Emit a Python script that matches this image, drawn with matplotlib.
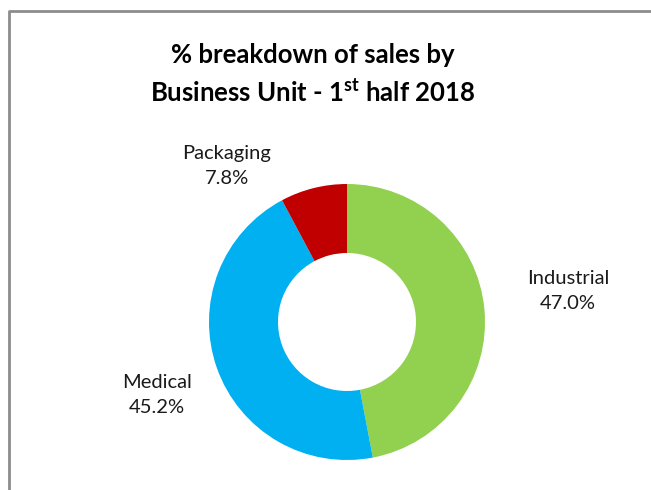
import matplotlib
matplotlib.use("Agg")
import matplotlib.pyplot as plt

units = ["Industrial", "Medical", "Packaging"]
shares = [47.0, 45.2, 7.8]
colors = ["#92D050", "#00B0F0", "#C00000"]

plt.rcParams["font.family"] = ["Lato", "DejaVu Sans"]
plt.rcParams["mathtext.fontset"] = "custom"
plt.rcParams["mathtext.bf"] = "Lato:bold"

W, H = 651, 490
fig = plt.figure(figsize=(W / 100, H / 100), dpi=100)
ax = fig.add_axes([0, 0, 1, 1])

# chart frame (left and top edges visible)
ax.plot([9, 9, W + 5], [-5, H - 11, H - 11], color="#8c8c8c", lw=2, solid_capstyle="butt")

cx, cy, r = 347, H - 322, 138
ax.pie(shares, colors=colors, startangle=90, counterclock=False,
       center=(cx, cy), radius=r, frame=True,
       wedgeprops=dict(width=r * 0.5, edgecolor="none"))
ax.set_xlim(0, W)
ax.set_ylim(0, H)
ax.set_aspect("equal")
ax.axis("off")

# label offsets from the ring centre, in pixels
label_pos = [(221, 31), (-190, -73), (-120, 156)]
for name, val, (dx, dy) in zip(units, shares, label_pos):
    ax.text(cx + dx, cy + dy, f"{name}\n{val:.1f}%", ha="center", va="center",
            fontsize=14.5, color="#1a1a1a", linespacing=1.6)

fig.text(313 / W, 1 - 55 / H, "% breakdown of sales by", ha="center", va="center",
         fontsize=18.5, fontweight="bold")
fig.text(313 / W, 1 - 92 / H, r"Business Unit - 1$^{\mathbf{st}}$ half 2018", ha="center",
         va="center", fontsize=18.5, fontweight="bold")

fig.savefig("out.png", dpi=100)
